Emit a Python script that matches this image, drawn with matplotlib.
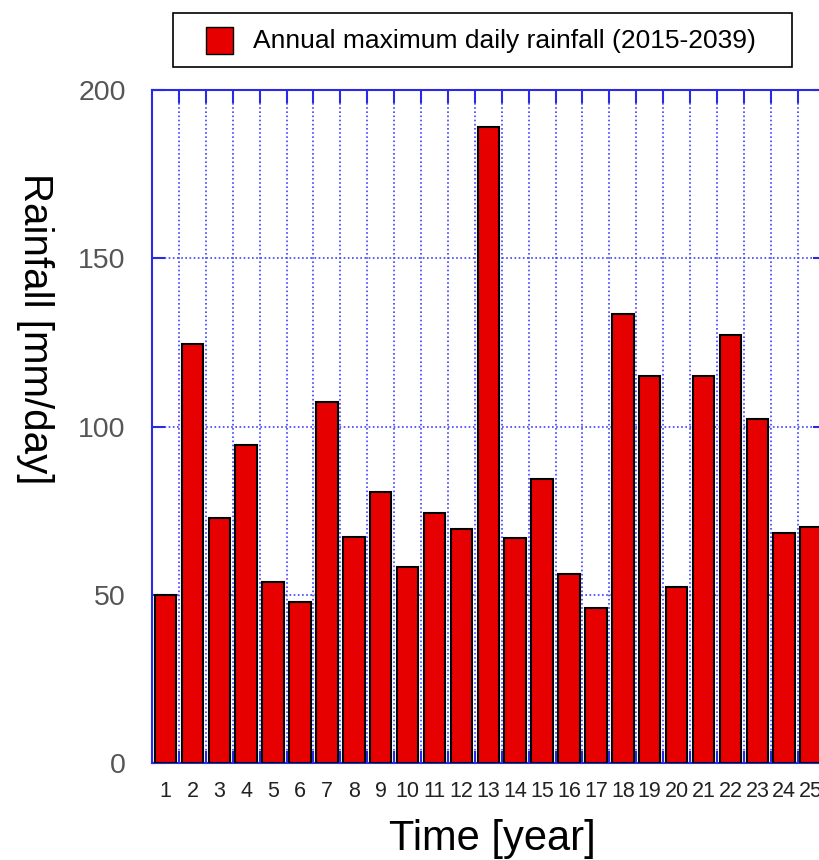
## Annual maximum daily rainfall, bar chart ##

import matplotlib
matplotlib.use('Agg')
import matplotlib.pyplot as plt
import matplotlib.ticker as tkr
from matplotlib.patches import Rectangle


## DATA ##
years = list(range(1, 26))
rainfall = [50.0, 124.7, 72.8, 94.5, 53.9, 47.8, 107.4, 67.3, 80.7, 58.4,
            74.4, 69.5, 189.1, 66.8, 84.4, 56.1, 46.0, 133.4, 115.1, 52.5,
            115.1, 127.2, 102.3, 68.3, 70.1]
yTicks = [0, 50, 100, 150, 200]

legendLabel = "Annual maximum daily rainfall (2015-2039)"
xLabel = "Time [year]"
yLabel = "Rainfall [mm/day]"

## STYLE ##
barColor = '#e60000'
axisBlue = '#2a2ae6'
gridBlue = '#4040ff'
W, H = 819, 860   # figure size in pixels


## FUNCTIONS ##
def px2fig(x, y):
    # pixel position measured from top-left -> figure fraction
    return x / W, 1 - y / H

def fig_rect(x0, y0, x1, y1, **kw):
    fx, fy = px2fig(x0, y1)
    return Rectangle((fx, fy), (x1 - x0) / W, (y1 - y0) / H, transform=fig.transFigure, **kw)


## MAIN ##
plt.rcParams['font.family'] = ['Liberation Sans', 'DejaVu Sans']

fig = plt.figure(figsize=(W / 100, H / 100), dpi=100, facecolor='white')
# axes runs slightly past the right edge of the figure
ax = fig.add_axes([0.1857, 0.1124, 0.8211, 0.7829])

ax.bar(years, rainfall, width=0.8, color=barColor, edgecolor='black', linewidth=1.5, zorder=3)

ax.set_xlim(0.5, 25.5)
ax.set_ylim(0, 200)

# grid lines sit between bars (half-integers), labels on the bars
ax.xaxis.set_major_locator(tkr.FixedLocator([y + 0.5 for y in years[:-1]]))
ax.xaxis.set_major_formatter(tkr.NullFormatter())
ax.xaxis.set_minor_locator(tkr.FixedLocator(years))
ax.xaxis.set_minor_formatter(tkr.FixedFormatter([str(y) for y in years]))
ax.yaxis.set_major_locator(tkr.FixedLocator(yTicks))

ax.tick_params(axis='both', which='major', direction='in', length=9, width=1.5,
               color=axisBlue, top=True, right=True)
ax.tick_params(axis='x', which='minor', length=0, pad=13, labelsize=15.5, labelcolor='#222222')
ax.tick_params(axis='y', which='major', pad=19, labelsize=20.5, labelcolor='#555555')

ax.grid(True, which='major', color=gridBlue, linestyle=(0, (1, 1.5)), linewidth=1.2, zorder=0)
ax.set_axisbelow(True)

for s in ax.spines.values():
    s.set_color(axisBlue)
    s.set_linewidth(1.5)

fig.text(*px2fig(492.5, 850), xLabel, fontsize=30, ha='center', va='baseline')
fig.text(*px2fig(35, 329), yLabel, fontsize=29, rotation=-90, ha='center', va='center')

# legend box drawn by hand: frame, red swatch, label
fig.patches.append(fig_rect(172.7, 13.3, 791.7, 66.7, facecolor='white',
                            edgecolor='black', linewidth=1.2))
fig.patches.append(fig_rect(206, 26.7, 232.7, 54.3, facecolor=barColor,
                            edgecolor='black', linewidth=1))
fig.text(*px2fig(253.3, 41), legendLabel, fontsize=19, ha='left', va='center')

plt.savefig('out.png', dpi=100, facecolor='white')
print("DONE: Exported out.png")
